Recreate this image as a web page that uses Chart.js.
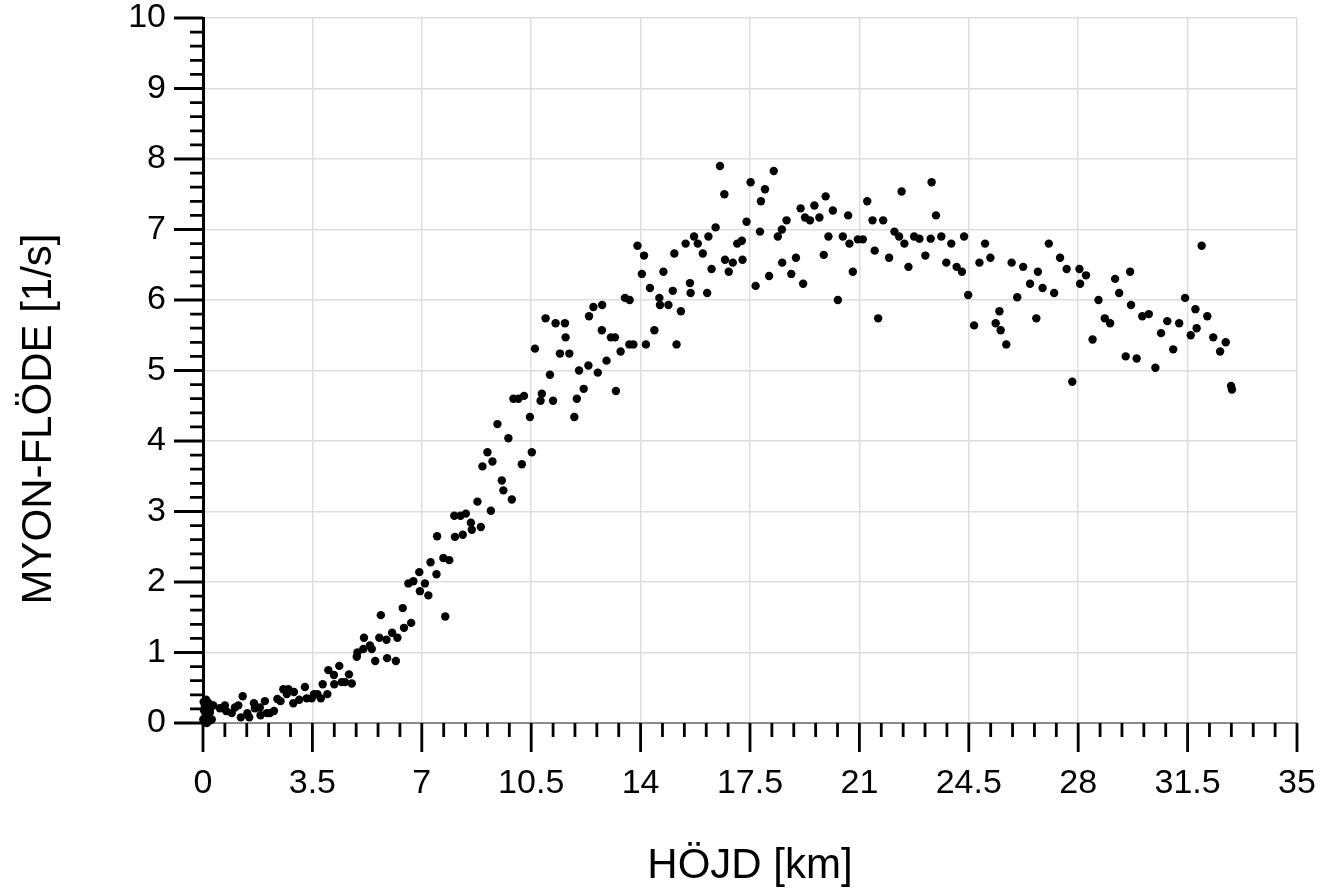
<!DOCTYPE html>
<html>
<head>
<meta charset="utf-8">
<script src="https://cdn.jsdelivr.net/npm/chart.js@4.4.1/dist/chart.umd.min.js"></script>
<style>
  html, body { margin: 0; padding: 0; background: #fff; }
  #wrap { width: 1323px; height: 896px; position: relative; }
</style>
</head>
<body>
<div id="wrap"><canvas id="c"></canvas></div>
<script>
// Height above ground [km]
const heights = [
  0.01,0.02,0.03,0.05,0.06,0.08,0.10,0.12,0.14,0.16,0.18,0.20,0.22,0.25,0.28,
  0.33,0.54,0.70,0.74,0.92,1.02,1.13,1.21,1.27,1.42,1.48,1.63,1.66,1.82,1.84,
  1.98,2.04,2.14,2.27,2.38,2.48,2.57,2.68,2.73,2.89,2.91,3.08,3.26,3.32,3.48,
  3.55,3.66,3.77,3.83,3.98,4.01,4.19,4.20,4.36,4.44,4.54,4.67,4.76,4.92,4.94,
  5.13,5.15,5.34,5.40,5.51,5.64,5.69,5.87,5.89,6.05,6.17,6.22,6.39,6.43,6.57,
  6.66,6.73,6.92,6.94,7.10,7.21,7.28,7.47,7.49,7.69,7.75,7.88,8.04,8.06,8.24,
  8.31,8.41,8.57,8.60,8.78,8.89,8.94,9.10,9.21,9.26,9.42,9.56,9.61,9.77,9.88,
  9.93,10.09,10.20,10.27,10.46,10.52,10.62,10.80,10.84,10.96,11.10,11.20,11.28,11.42,11.58,
  11.60,11.72,11.88,11.96,12.03,12.18,12.33,12.35,12.49,12.63,12.76,12.77,12.91,13.05,13.18,
  13.21,13.36,13.50,13.64,13.65,13.77,13.90,14.04,14.11,14.17,14.30,14.44,14.60,14.62,14.73,
  14.89,15.03,15.08,15.15,15.29,15.44,15.58,15.60,15.71,15.83,15.99,16.13,16.17,16.27,16.40,
  16.54,16.68,16.70,16.82,16.95,17.09,17.24,17.26,17.39,17.52,17.68,17.82,17.85,17.98,18.11,
  18.26,18.39,18.52,18.53,18.67,18.82,18.97,19.12,19.20,19.26,19.42,19.56,19.72,19.86,19.92,
  20.01,20.15,20.31,20.47,20.64,20.68,20.79,20.95,21.11,21.25,21.42,21.49,21.60,21.76,21.95,
  22.12,22.27,22.35,22.44,22.57,22.75,22.92,23.11,23.28,23.31,23.45,23.62,23.78,23.94,24.11,
  24.28,24.35,24.48,24.67,24.84,25.02,25.19,25.36,25.48,25.52,25.70,25.87,26.05,26.24,26.46,
  26.66,26.71,26.86,27.06,27.23,27.42,27.63,27.81,28.04,28.06,28.25,28.46,28.65,28.85,29.02,
  29.18,29.31,29.52,29.66,29.69,29.87,30.05,30.26,30.47,30.65,30.85,31.04,31.23,31.42,31.60,
  31.75,31.79,31.95,32.13,32.32,32.54,32.72,32.89,32.92
];
// Muon flux [1/s]
const flux = [
  0.05,0.30,0.18,0.02,0.25,0.10,0.33,0.00,0.20,0.08,0.28,0.03,0.15,0.22,0.05,
  0.25,0.21,0.25,0.17,0.14,0.22,0.25,0.08,0.38,0.14,0.08,0.28,0.21,0.22,0.11,
  0.31,0.14,0.14,0.17,0.34,0.31,0.48,0.41,0.48,0.28,0.44,0.33,0.51,0.35,0.35,
  0.41,0.41,0.35,0.55,0.41,0.75,0.68,0.55,0.81,0.58,0.58,0.69,0.56,0.94,1.00,
  1.05,1.21,1.10,1.05,0.88,1.21,1.53,1.18,0.92,1.28,0.88,1.21,1.63,1.35,1.98,
  1.42,2.01,2.14,1.87,1.98,1.81,2.28,2.11,2.65,2.34,1.51,2.31,2.94,2.64,2.94,
  2.67,2.97,2.84,2.74,3.14,2.78,3.64,3.84,3.01,3.71,4.24,3.44,3.30,4.04,3.17,
  4.60,4.60,3.67,4.64,4.34,3.84,5.31,4.57,4.67,5.74,4.94,4.57,5.67,5.24,5.67,
  5.47,5.24,4.34,4.60,5.00,4.74,5.07,5.77,5.90,4.97,5.57,5.93,5.14,5.47,5.47,
  4.71,5.27,6.03,5.37,6.00,5.37,6.77,6.37,6.63,5.37,6.17,5.57,6.03,5.93,6.40,
  5.93,6.13,6.66,5.37,5.84,6.80,6.24,6.10,6.90,6.80,6.66,6.10,6.90,6.44,7.03,
  7.90,7.50,6.57,6.40,6.53,6.80,6.84,6.57,7.11,7.67,6.20,6.97,7.40,7.57,6.34,
  7.83,6.90,7.00,6.53,7.13,6.37,6.60,7.30,6.23,7.17,7.13,7.34,7.17,6.64,7.47,
  6.90,7.27,6.00,6.90,7.20,6.80,6.40,6.86,6.86,7.40,7.13,6.70,5.74,7.13,6.60,
  6.97,6.90,7.54,6.80,6.47,6.90,6.87,6.63,6.87,7.67,7.20,6.90,6.53,6.80,6.47,
  6.40,6.90,6.07,5.64,6.53,6.80,6.60,5.67,5.84,5.57,5.37,6.53,6.04,6.47,6.23,
  5.74,6.40,6.17,6.80,6.10,6.60,6.44,4.84,6.44,6.23,6.35,5.44,6.00,5.74,5.67,
  6.30,6.10,5.20,6.40,5.93,5.17,5.77,5.80,5.04,5.53,5.70,5.30,5.67,6.03,5.50,
  5.87,5.60,6.77,5.77,5.47,5.27,5.40,4.78,4.73
];
const xTicks = [0, 3.5, 7, 10.5, 14, 17.5, 21, 24.5, 28, 31.5, 35];
const yTicks = [0, 1, 2, 3, 4, 5, 6, 7, 8, 9, 10];
const xTitle = 'HÖJD [km]';
const yTitle = 'MYON-FLÖDE [1/s]';
const minorPerMajor = 5;

const FONT = '"Liberation Sans", Arial, Helvetica, sans-serif';

const points = heights.map((h, i) => ({ x: h, y: flux[i] }));

const axisPlugin = {
  id: 'axisDecor',
  beforeDatasetsDraw(chart) {
    const { ctx, scales: { x, y }, chartArea } = chart;
    ctx.save();
    ctx.strokeStyle = '#000';
    ctx.lineWidth = 2.8;
    ctx.lineCap = 'butt';
    ctx.beginPath();
    for (let k = 0; k < yTicks.length; k++) {
      const v0 = yTicks[k];
      const py = y.getPixelForValue(v0);
      ctx.moveTo(chartArea.left - 29, py);
      ctx.lineTo(chartArea.left, py);
      if (k < yTicks.length - 1) {
        const step = (yTicks[k + 1] - v0) / minorPerMajor;
        for (let m = 1; m < minorPerMajor; m++) {
          const pm = y.getPixelForValue(v0 + m * step);
          ctx.moveTo(chartArea.left - 13, pm);
          ctx.lineTo(chartArea.left, pm);
        }
      }
    }
    for (let k = 0; k < xTicks.length; k++) {
      const v0 = xTicks[k];
      const px = x.getPixelForValue(v0);
      ctx.moveTo(px, chartArea.bottom);
      ctx.lineTo(px, chartArea.bottom + 29);
      if (k < xTicks.length - 1) {
        const step = (xTicks[k + 1] - v0) / minorPerMajor;
        for (let m = 1; m < minorPerMajor; m++) {
          const pm = x.getPixelForValue(v0 + m * step);
          ctx.moveTo(pm, chartArea.bottom);
          ctx.lineTo(pm, chartArea.bottom + 14);
        }
      }
    }
    ctx.stroke();
    ctx.restore();
  },
  afterDraw(chart) {
    const { ctx } = chart;
    ctx.save();
    ctx.fillStyle = '#000';
    ctx.font = '42px ' + FONT;
    ctx.textAlign = 'center';
    ctx.textBaseline = 'middle';
    ctx.translate(39, 419);
    ctx.rotate(-Math.PI / 2);
    ctx.fillText(yTitle, 0, 0);
    ctx.restore();
  }
};

new Chart(document.getElementById('c'), {
  type: 'scatter',
  data: {
    datasets: [{
      data: points,
      pointRadius: 4.2,
      pointHoverRadius: 4.2,
      backgroundColor: '#000',
      borderWidth: 0,
      clip: false
    }]
  },
  options: {
    responsive: true,
    maintainAspectRatio: false,
    animation: false,
    events: [],
    layout: { padding: { top: 18, right: 26, bottom: 0, left: 0 } },
    plugins: { legend: { display: false }, tooltip: { enabled: false } },
    scales: {
      x: {
        type: 'linear',
        min: 0, max: 35,
        afterBuildTicks: s => { s.ticks = xTicks.map(v => ({ value: v })); },
        afterFit: s => { s.height = 173; s.paddingLeft = 0; s.paddingRight = 0; },
        ticks: {
          color: '#000',
          font: { family: FONT, size: 34 },
          padding: 40,
          maxRotation: 0,
          autoSkip: false,
          callback: v => String(v)
        },
        grid: { color: '#dedede', lineWidth: 1.5, drawTicks: false },
        border: { display: true, color: '#8c8c8c', width: 2 },
        title: {
          display: true,
          text: xTitle,
          color: '#000',
          font: { family: FONT, size: 42 },
          padding: { top: 0, bottom: 4 }
        }
      },
      y: {
        type: 'linear',
        min: 0, max: 10,
        afterBuildTicks: s => { s.ticks = yTicks.map(v => ({ value: v })); },
        afterFit: s => { s.width = 203; s.paddingTop = 0; s.paddingBottom = 0; },
        ticks: {
          color: '#000',
          font: { family: FONT, size: 34 },
          padding: 37,
          autoSkip: false,
          callback: v => String(v)
        },
        grid: { color: '#dedede', lineWidth: 1.5, drawTicks: false },
        border: { display: true, color: '#000', width: 3 }
      }
    }
  },
  plugins: [axisPlugin]
});
</script>
</body>
</html>
